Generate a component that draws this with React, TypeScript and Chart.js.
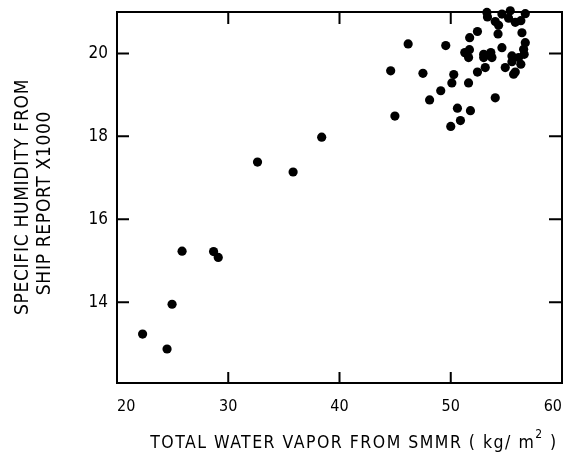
import React, { useEffect, useRef } from "react";
import { Chart, registerables } from "chart.js";

Chart.register(...registerables);

const FONT = '"DejaVu Sans Condensed", "Liberation Sans Narrow", sans-serif';

const xTickValues = [20, 30, 40, 50, 60];
const yTickValues = [14, 16, 18, 20];
const xMin = 20;
const xMax = 60;
const yMin = 12.05;
const yMax = 21;

const xTitle = "TOTAL WATER VAPOR FROM SMMR ( kg/ m";
const xTitleSup = "2";
const xTitleEnd = " )";
const yTitleLines = ["SPECIFIC HUMIDITY FROM", "SHIP REPORT X1000"];

// total water vapor (kg/m^2)
const waterVapor = [
  22.3, 24.5, 24.95, 25.85, 28.68, 29.1, 32.63, 35.83, 38.4, 44.98,
  46.17, 49.55, 44.6, 47.5, 50.27, 50.1, 51.6, 49.1, 48.1, 50.6,
  51.77, 50.87, 50.0, 54.0, 51.7, 51.26, 51.68, 51.6, 52.4, 54.25,
  54.6, 52.96, 53.6, 52.4, 53.1, 54.9, 55.65, 55.5, 55.5, 56.3,
  56.6, 56.7, 56.4, 56.3, 56.7, 55.35, 55.8, 54.0, 53.3, 53.25,
  54.6, 54.3, 55.2, 56.55, 53.7, 52.96, 55.8, 56.1,
];
// specific humidity x1000
const specificHumidity = [
  13.23, 12.87, 13.95, 15.23, 15.22, 15.08, 17.38, 17.14, 17.98, 18.49,
  20.23, 20.19, 19.58, 19.52, 19.49, 19.29, 19.29, 19.1, 18.88, 18.68,
  18.62, 18.38, 18.24, 18.93, 20.38, 20.02, 20.09, 19.9, 20.53, 20.47,
  20.14, 19.98, 20.02, 19.55, 19.66, 19.66, 19.5, 19.94, 19.8, 19.74,
  19.98, 20.26, 20.5, 20.79, 20.96, 21.03, 20.75, 20.77, 20.88, 20.99,
  20.95, 20.68, 20.85, 20.1, 19.9, 19.9, 19.55, 19.9,
];

const framePlugin = {
  id: "frameAndTitles",
  afterDraw(chart: any) {
    const { ctx, chartArea } = chart;
    const xs = chart.scales.x;
    const ys = chart.scales.y;
    const { left, right, top, bottom } = chartArea;
    ctx.save();
    ctx.strokeStyle = "#000";
    ctx.lineWidth = 2;
    ctx.beginPath();
    ctx.rect(left, top, right - left, bottom - top);
    ctx.stroke();
    ctx.beginPath();
    for (const v of xTickValues) {
      if (v === xMin || v === xMax) continue;
      const px = xs.getPixelForValue(v);
      ctx.moveTo(px, bottom);
      ctx.lineTo(px, bottom - 11);
      ctx.moveTo(px, top);
      ctx.lineTo(px, top + 12);
    }
    for (const v of yTickValues) {
      const py = ys.getPixelForValue(v);
      ctx.moveTo(left, py);
      ctx.lineTo(left + 12, py);
      ctx.moveTo(right, py);
      ctx.lineTo(right - 13, py);
    }
    ctx.stroke();

    // x title
    ctx.fillStyle = "#000";
    const big = "17.5px " + FONT;
    const small = "12px " + FONT;
    ctx.font = big;
    (ctx as any).letterSpacing = "1.5px";
    ctx.textBaseline = "alphabetic";
    ctx.textAlign = "left";
    const mainW = ctx.measureText(xTitle).width;
    ctx.font = small;
    const supW = ctx.measureText(xTitleSup).width;
    ctx.font = big;
    const endW = ctx.measureText(xTitleEnd).width;
    const total = mainW + supW + endW;
    const cx = 354;
    let x0 = cx - total / 2;
    const baseY = 448;
    ctx.fillText(xTitle, x0, baseY);
    x0 += mainW;
    ctx.font = small;
    ctx.fillText(xTitleSup, x0, baseY - 10);
    x0 += supW;
    ctx.font = big;
    ctx.fillText(xTitleEnd, x0, baseY);

    // y title
    ctx.font = "19px " + FONT;
    (ctx as any).letterSpacing = "0.7px";
    ctx.textAlign = "center";
    ctx.textBaseline = "middle";
    ctx.save();
    ctx.translate(23, 197);
    ctx.rotate(-Math.PI / 2);
    ctx.fillText(yTitleLines[0], 0, 0);
    ctx.restore();
    ctx.save();
    ctx.translate(45, 203);
    ctx.rotate(-Math.PI / 2);
    ctx.fillText(yTitleLines[1], 0, 0);
    ctx.restore();
    ctx.restore();
  },
};

export default function App() {
  const canvasRef = useRef<HTMLCanvasElement | null>(null);

  useEffect(() => {
    const canvas = canvasRef.current;
    if (!canvas) return;
    const chart = new Chart(canvas, {
      type: "scatter",
      data: {
        datasets: [
          {
            data: waterVapor.map((x, i) => ({ x, y: specificHumidity[i] })),
            backgroundColor: "#000",
            borderWidth: 0,
            pointRadius: 4.6,
            pointHoverRadius: 4.6,
            clip: false as any,
          },
        ],
      },
      options: {
        animation: false,
        responsive: false,
        devicePixelRatio: 1,
        layout: { padding: { left: 0, top: 12, right: 8, bottom: 0 } },
        plugins: {
          legend: { display: false },
          tooltip: { enabled: false },
          title: { display: false },
        },
        events: [],
        scales: {
          x: {
            type: "linear",
            min: xMin,
            max: xMax,
            afterBuildTicks: (scale: any) => {
              scale.ticks = xTickValues.map((v) => ({ value: v }));
            },
            afterFit: (scale: any) => {
              scale.height = 75;
              scale.paddingLeft = 0;
              scale.paddingRight = 0;
            },
            grid: { display: false, drawTicks: false },
            border: { display: false },
            ticks: {
              color: "#000",
              font: { family: FONT, size: 16 },
              padding: 14,
              align: "inner",
              callback: (v: any) => String(v),
            },
          },
          y: {
            type: "linear",
            min: yMin,
            max: yMax,
            afterBuildTicks: (scale: any) => {
              scale.ticks = yTickValues.map((v) => ({ value: v }));
            },
            afterFit: (scale: any) => {
              scale.width = 117;
              scale.paddingTop = 0;
              scale.paddingBottom = 0;
            },
            grid: { display: false, drawTicks: false },
            border: { display: false },
            ticks: {
              color: "#000",
              font: { family: FONT, size: 17 },
              padding: 9,
              callback: (v: any) => String(v),
            },
          },
        },
      },
      plugins: [framePlugin],
    });
    return () => chart.destroy();
  }, []);

  return (
    <div style={{ position: "absolute", left: 0, top: 0, width: 570, height: 458, background: "#fff" }}>
      <canvas ref={canvasRef} width={570} height={458} style={{ width: 570, height: 458, display: "block" }} />
    </div>
  );
}
